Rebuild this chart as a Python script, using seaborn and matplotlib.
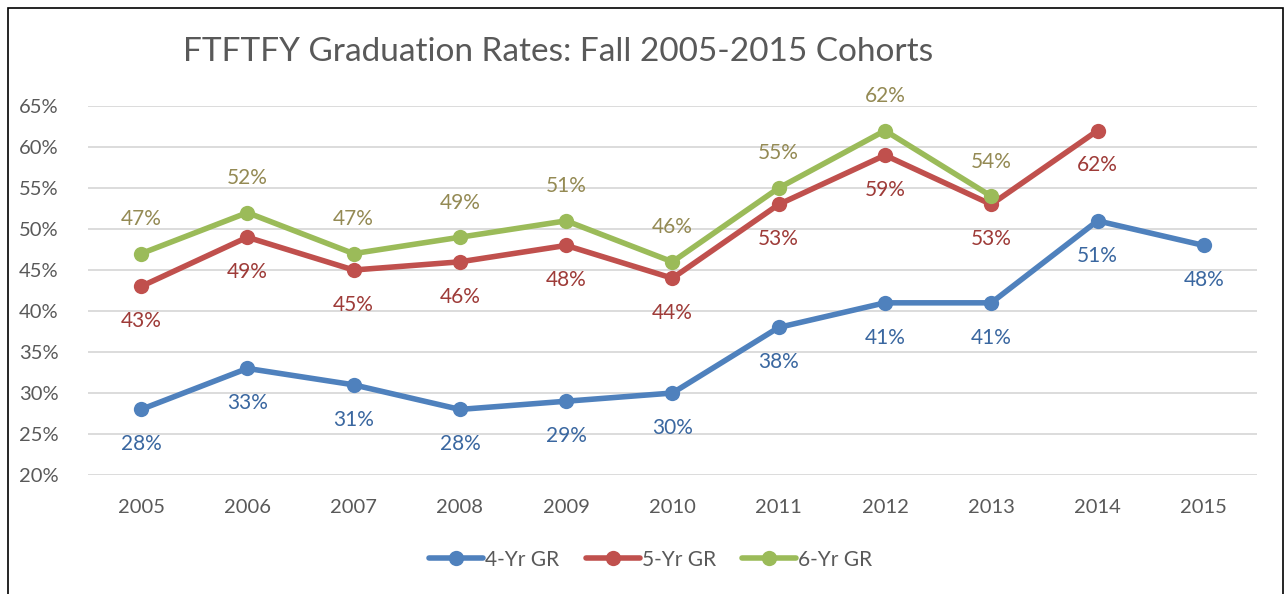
import numpy as np
import pandas as pd
import matplotlib.pyplot as plt
import seaborn as sns
from matplotlib.patches import Rectangle

years = ['2005', '2006', '2007', '2008', '2009', '2010', '2011', '2012', '2013', '2014', '2015']
gr4 = [28, 33, 31, 28, 29, 30, 38, 41, 41, 51, 48]
gr5 = [43, 49, 45, 46, 48, 44, 53, 59, 53, 62, np.nan]
gr6 = [47, 52, 47, 49, 51, 46, 55, 62, 54, np.nan, np.nan]
series = ['4-Yr GR', '5-Yr GR', '6-Yr GR']
y_ticks = [20, 25, 30, 35, 40, 45, 50, 55, 60, 65]

line_colors = ['#4F81BD', '#C0504D', '#9BBB59']
label_colors = ['#3A67A0', '#9E3B38', '#948A54']

df = pd.DataFrame({'Year': years * 3,
                   'x': list(range(len(years))) * 3,
                   'Rate': gr4 + gr5 + gr6,
                   'Series': [s for s in series for _ in years]})

sns.set_theme(style='white')
plt.rcParams['font.family'] = ['Lato', 'DejaVu Sans']

fig = plt.figure(figsize=(12.86, 5.94), dpi=100)
ax = fig.add_axes([0.0684, 0.2003, 0.909, 0.6212])

sns.lineplot(data=df.dropna(), x='x', y='Rate', hue='Series', palette=line_colors,
             marker='o', markersize=11, markeredgewidth=0, linewidth=4, ax=ax)

# data labels
offsets = {'4-Yr GR': -25, '5-Yr GR': -25, '6-Yr GR': 25}
for s, c in zip(series, label_colors):
    sub = df[df['Series'] == s].dropna()
    for _, r in sub.iterrows():
        ax.annotate(f"{int(r['Rate'])}%", (r['x'], r['Rate']), xytext=(0, offsets[s]),
                    textcoords='offset points', ha='center', va='center',
                    fontsize=15, color=c)

ax.set_xlim(-0.5, len(years) - 0.5)
ax.set_ylim(20, 65)
ax.set_xticks(range(len(years)))
ax.set_xticklabels(years)
ax.set_yticks(y_ticks)
ax.set_yticklabels([f'{v}%' for v in y_ticks])
ax.tick_params(axis='both', labelsize=14.5, colors='#595959', length=0)
ax.tick_params(axis='x', pad=17)
ax.tick_params(axis='y', pad=21)
ax.grid(axis='y', color='#D9D9D9', linewidth=1.3)
ax.set_axisbelow(True)
for sp in ax.spines.values():
    sp.set_visible(False)
ax.set_xlabel('')
ax.set_ylabel('')

fig.text(0.434, 0.912, 'FTFTFY Graduation Rates: Fall 2005-2015 Cohorts',
         ha='center', va='center', fontsize=24, color='#595959')

handles, labels = ax.get_legend_handles_labels()
ax.legend(handles, labels, loc='center', bbox_to_anchor=(0.506, 0.058),
          bbox_transform=fig.transFigure, ncol=3, frameon=False, fontsize=15,
          handlelength=2.6, columnspacing=1.25, handletextpad=0.1,
          labelcolor='#595959')

fig.patches.append(Rectangle((0.006, -0.05), 0.992, 1.036, transform=fig.transFigure,
                             fill=False, edgecolor='black', linewidth=1.2))

plt.savefig('out.png', dpi=100)
